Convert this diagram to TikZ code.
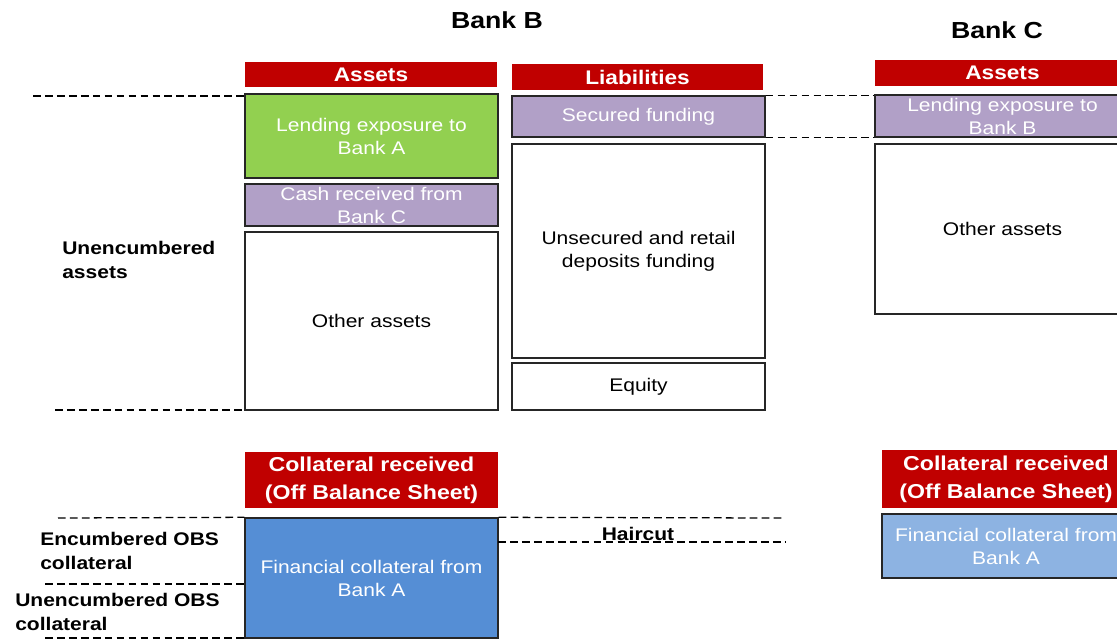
\documentclass[tikz,border=0pt]{standalone}
\usepackage{fontspec}
\setmainfont[FakeStretch=1.15]{Liberation Sans}
\definecolor{rouge}{HTML}{C00000}
\definecolor{vert}{HTML}{92D050}
\definecolor{violet}{HTML}{B1A0C7}
\definecolor{bleu}{HTML}{558ED5}
\definecolor{bleuclair}{HTML}{8DB3E2}
\begin{document}
\begin{tikzpicture}[x=0.025cm,y=-0.025cm]
% Styles
\tikzstyle{entete}=[fill=rouge,text=white,align=center,inner sep=0pt,font=\fontsize{14.3}{19.8}\selectfont\bfseries]
\tikzstyle{boite}=[draw=black!85,line width=1pt,align=center,inner sep=0pt,font=\fontsize{13}{16.3}\selectfont]
\tikzstyle{couleur}=[boite,text=white]
\tikzstyle{tirets}=[dash pattern=on 5.5pt off 3pt,line width=0.9pt]
\tikzstyle{titre}=[font=\fontsize{16.5}{20}\selectfont\bfseries]
\tikzstyle{legende}=[anchor=west,align=left,inner sep=0pt,font=\fontsize{13}{17}\selectfont\bfseries]
% Dimensions
\def\unite{0.025cm}
\def\Lrg{253*\unite}
\def\LrgC{255*\unite}
% Cadre
\useasboundingbox (0,0) rectangle (1117,641);
\clip (0,0) rectangle (1117,641);
% Titres
\node[titre] (titreB) at (497,20) {Bank B};
\node[titre] (titreC) at (997,30) {Bank C};
% Banque B : actifs
\node[entete,font=\fontsize{14}{17}\selectfont\bfseries,minimum width=252*\unite,minimum height=25*\unite] (actifsB) at (371,74.5) {Assets};
\node[couleur,fill=vert,minimum width=\Lrg,minimum height=84*\unite] (pretA) at (371.5,136) {Lending exposure to\\Bank A};
\node[couleur,fill=violet,minimum width=\Lrg,minimum height=42*\unite] (cashC) at (371.5,205) {Cash received from\\Bank C};
\node[boite,minimum width=\Lrg,minimum height=178*\unite] (autresB) at (371.5,321) {Other assets};
% Banque B : passifs
\node[entete,font=\fontsize{14}{17}\selectfont\bfseries,minimum width=251*\unite,minimum height=26*\unite] (passifsB) at (637.5,77) {Liabilities};
\node[couleur,fill=violet,minimum width=\Lrg,minimum height=41*\unite] (garanti) at (638.5,116.5) {Secured funding};
\node[boite,minimum width=\Lrg,minimum height=214*\unite] (nongaranti) at (638.5,251) {Unsecured and retail\\deposits funding};
\node[boite,minimum width=\Lrg,minimum height=47*\unite] (fondspropres) at (638.5,386.5) {Equity};
% Banque C : actifs
\node[entete,font=\fontsize{14}{17}\selectfont\bfseries,minimum width=\LrgC,minimum height=26*\unite] (actifsC) at (1002.5,73) {Assets};
\node[couleur,fill=violet,minimum width=\LrgC,minimum height=42*\unite] (pretB) at (1002.5,116) {Lending exposure to\\Bank B};
\node[boite,minimum width=\LrgC,minimum height=170*\unite] (autresC) at (1002.5,229) {Other assets};
% Collatéral hors bilan
\node[entete,minimum width=\Lrg,minimum height=56*\unite] (collB) at (371.5,480) {Collateral received\\(Off Balance Sheet)};
\node[couleur,fill=bleu,minimum width=\Lrg,minimum height=120*\unite] (finB) at (371.5,578) {Financial collateral from\\Bank A};
\node[entete,minimum width=248*\unite,minimum height=58*\unite] (collC) at (1006,479) {Collateral received\\(Off Balance Sheet)};
\node[couleur,fill=bleuclair,minimum width=248*\unite,minimum height=64*\unite] (finC) at (1006,546) {Financial collateral from\\Bank A};
% Légendes
\node[legende] (nongreves) at (62,260) {Unencumbered\\assets};
\node[legende] (greveshb) at (40,550.5) {Encumbered OBS\\collateral};
\node[legende] (nongreveshb) at (15,611.5) {Unencumbered OBS\\collateral};
% Repères
\coordinate (g1) at (33,96);
\coordinate (g2) at (55,410);
\coordinate (g3) at (58,518);
\coordinate (d3) at (785,518);
\coordinate (h1) at (498,542);
\coordinate (d4) at (785,542);
\coordinate (g4) at (45,584);
\coordinate (g5) at (45,638);
% Tirets
\draw[tirets] (g1) -- (g1 -| pretA.west);
\draw[tirets] (g2) -- (g2 -| autresB.west);
\draw[tirets] (garanti.north east) -- (garanti.north east -| pretB.west);
\draw[tirets] (garanti.south east) -- (garanti.south east -| pretB.west);
\draw[tirets] (g3) -- (finB.north west);
\draw[tirets] (finB.north east) -- (d3);
\draw[tirets] (h1) -- (d4);
\draw[tirets] (g4) -- (g4 -| finB.west);
\draw[tirets] (g5) -- (g5 -| finB.west);
\node[anchor=south,inner sep=1pt,font=\fontsize{13}{15}\selectfont\bfseries] (decote) at (638,542) {Haircut};
\end{tikzpicture}
\end{document}
